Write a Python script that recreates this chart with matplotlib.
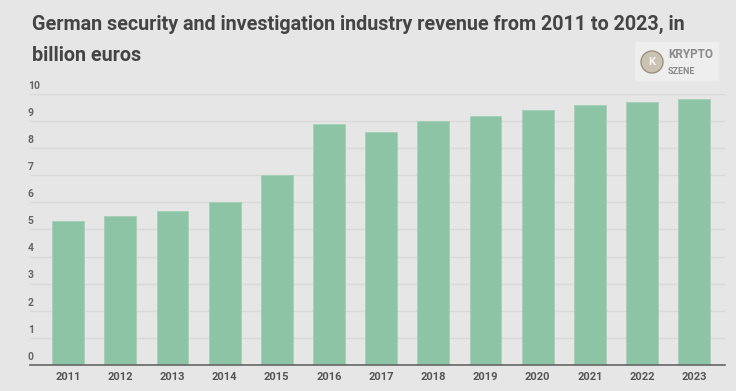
import matplotlib
matplotlib.use("Agg")
import matplotlib.pyplot as plt
from matplotlib.patches import Ellipse, Rectangle
from matplotlib.transforms import blended_transform_factory

years = ["2011", "2012", "2013", "2014", "2015", "2016", "2017",
         "2018", "2019", "2020", "2021", "2022", "2023"]
revenue = [5.3, 5.5, 5.7, 6.0, 7.0, 8.9, 8.6, 9.0, 9.2, 9.4, 9.6, 9.7, 9.8]
yticks = [0, 1, 2, 3, 4, 5, 6, 7, 8, 9, 10]
title_lines = ["German security and investigation industry revenue from 2011 to 2023, in",
               "billion euros"]

BG = "#e6e6e6"
BAR = "#8cc4a5"

plt.rcParams['font.family'] = ['Roboto', 'DejaVu Sans']

W, H = 736, 391
fig = plt.figure(figsize=(W / 100, H / 100), dpi=100, facecolor=BG)
ax = fig.add_axes([30 / W, 1 - 365 / H, 695 / W, (365 - 94) / H])
ax.set_facecolor(BG)

x = list(range(len(years)))
ax.bar(x, revenue, width=0.61, color=BAR, edgecolor="#a3d1b6", linewidth=0.6, zorder=3)

ax.set_xlim(-0.73, 12.59)
ax.set_ylim(0, 10)
ax.set_yticks(yticks)
ax.yaxis.grid(True, color="#d9d9d9", linewidth=1.0, zorder=0)
ax.tick_params(axis='y', length=0, labelleft=False)
ax.set_xticks(x)
ax.set_xticklabels(years, fontsize=8, color="#555555", fontweight='bold')
ax.tick_params(axis='x', length=0, pad=5)
for s in ["top", "right", "left"]:
    ax.spines[s].set_visible(False)
ax.spines["bottom"].set_color("#666666")
ax.spines["bottom"].set_linewidth(1.2)
ax.spines["bottom"].set_zorder(4)

tr = blended_transform_factory(fig.transFigure, ax.transData)
for v in yticks:
    ax.text(28 / W, v + 0.12, str(v), transform=tr, fontsize=7.5, color="#666666",
            fontweight='bold', ha='left', va='bottom', clip_on=False)

for i, line in enumerate(title_lines):
    fig.text(32 / W, 1 - (30 + 31 * i) / H, line, fontsize=14.2, fontweight='bold',
             color="#444444", ha='left', va='baseline')

# logo
fig.patches.append(Rectangle((635 / W, 1 - 81 / H), 84 / W, 39 / H, transform=fig.transFigure,
                             facecolor="#eeeeee", edgecolor="none", zorder=5))
fig.patches.append(Ellipse((652 / W, 1 - 62 / H), 22 / W, 22 / H, transform=fig.transFigure,
                           facecolor="#cbc3b1", edgecolor="#9a927f", linewidth=1, zorder=6))
fig.text(652 / W, 1 - 62 / H, "K", fontsize=8, fontweight='bold', color="#f4f4f4",
         ha='center', va='center', zorder=7)
fig.text(668 / W, 1 - 55 / H, "KRYPTO", fontsize=8.5, fontweight='bold', color="#8a8a8a",
         ha='left', va='center', fontstretch='condensed', zorder=7)
fig.text(668 / W, 1 - 71 / H, "SZENE", fontsize=6.5, fontweight='bold', color="#8a8a8a",
         ha='left', va='center', zorder=7)

fig.savefig("out.png", dpi=100, facecolor=BG)
